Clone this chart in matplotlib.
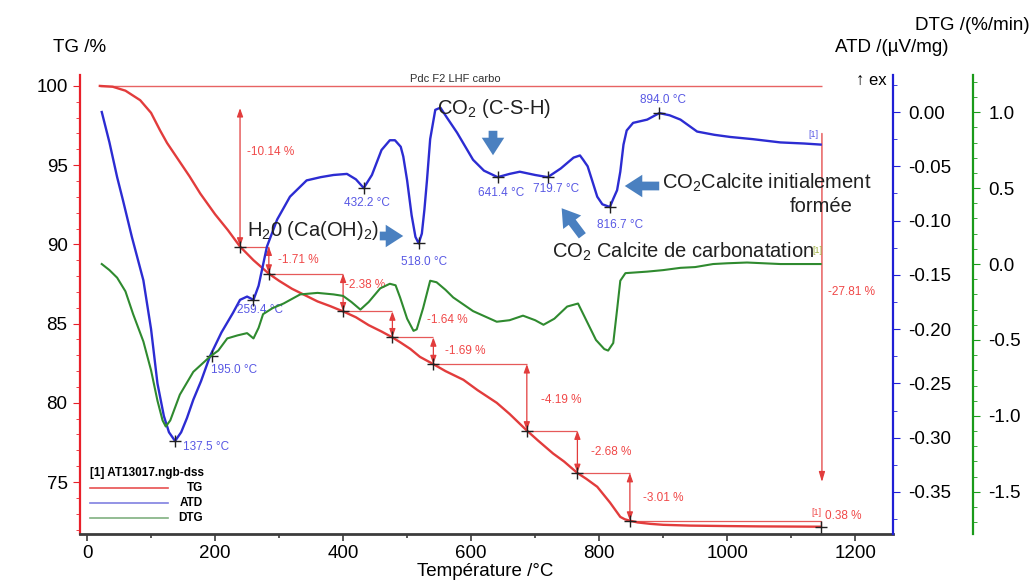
"""TG / ATD / DTG thermogram, Pdc F2 LHF carbo"""
import matplotlib
matplotlib.use('Agg')
from matplotlib import pyplot as plt
from matplotlib.lines import Line2D
from matplotlib.ticker import MultipleLocator

plt.rcParams['font.family'] = ['Liberation Sans', 'DejaVu Sans']
plt.rcParams['mathtext.fontset'] = 'custom'
plt.rcParams['mathtext.rm'] = 'Liberation Sans'
plt.rcParams['mathtext.it'] = 'Liberation Sans:italic'

CLR_TG = '#e23c3c'
CLR_ATD = '#2c2cd2'
CLR_DTG = '#2f8a2f'
CLR_TG_TXT = '#f04848'
CLR_ATD_TXT = '#5858e4'
CLR_ARROW = '#4a80c0'

# ---- data ----
tg_T = [20, 40, 60, 83, 100, 114, 125, 140, 160, 177, 200, 220, 239, 260, 284, 300, 320,
        340, 360, 380, 400, 420, 440, 460, 477, 490, 505, 520, 541, 560, 588, 610, 640,
        660, 687, 705, 728, 745, 766, 780, 797, 817, 833, 840, 848, 860, 880, 900, 942,
        1000, 1050, 1100, 1146]
tg_val = [100, 99.95, 99.7, 99.1, 98.3, 97.2, 96.4, 95.5, 94.3, 93.2, 91.9, 90.9, 89.86,
          89.0, 88.15, 87.7, 87.2, 86.8, 86.4, 86.1, 85.77, 85.4, 84.9, 84.5, 84.13, 83.8,
          83.4, 82.9, 82.44, 82.0, 81.45, 80.8, 80.0, 79.3, 78.25, 77.6, 76.8, 76.3, 75.57,
          75.2, 74.7, 73.7, 72.8, 72.65, 72.56, 72.45, 72.36, 72.3, 72.25, 72.22, 72.2,
          72.19, 72.18]

atd_T = [23, 35, 47, 56, 70, 88, 100, 110, 120, 128, 137.5, 147, 156, 166, 178, 192, 210,
         228, 239, 250, 260, 268, 281, 297, 317, 343, 365, 385, 406, 420, 432.2, 445, 460,
         473, 481, 490, 494, 500, 507, 513, 518, 523, 527, 531, 536, 544, 552, 562, 578,
         603, 620, 641.4, 660, 676, 700, 719.7, 740, 760, 770, 775, 782, 789, 797, 805,
         816.7, 822, 828, 833, 838, 843, 853, 875, 894, 910, 927, 953, 980, 1005, 1040,
         1083, 1120, 1146]
atd_val = [0.000, -0.028, -0.060, -0.081, -0.115, -0.155, -0.200, -0.250, -0.280, -0.295,
           -0.303, -0.295, -0.282, -0.265, -0.248, -0.225, -0.203, -0.185, -0.173, -0.170,
           -0.173, -0.160, -0.124, -0.099, -0.078, -0.063, -0.060, -0.058, -0.057, -0.062,
           -0.070, -0.058, -0.035, -0.026, -0.026, -0.032, -0.041, -0.063, -0.095, -0.115,
           -0.121, -0.112, -0.090, -0.063, -0.025, 0.002, 0.004, -0.005, -0.019, -0.044,
           -0.054, -0.060, -0.057, -0.055, -0.058, -0.060, -0.052, -0.042, -0.040, -0.044,
           -0.050, -0.063, -0.078, -0.085, -0.0875, -0.080, -0.072, -0.055, -0.030, -0.017,
           -0.010, -0.007, -0.001, -0.003, -0.007, -0.018, -0.021, -0.023, -0.025, -0.028,
           -0.029, -0.030]

dtg_T = [23, 35, 47, 60, 72, 88, 100, 110, 118, 123, 130, 145, 166, 192, 205, 219, 235,
         250, 260, 268, 275, 290, 307, 333, 360, 385, 400, 413, 427, 440, 458, 473, 482,
         489, 500, 510, 515, 525, 536, 546, 560, 572, 603, 640, 660, 681, 700, 713, 730,
         750, 767, 781, 795, 808, 814, 822, 828, 833, 841, 875, 900, 927, 950, 978, 1000,
         1031, 1083, 1146]
dtg_val = [0.00, -0.04, -0.09, -0.18, -0.33, -0.51, -0.70, -0.90, -1.03, -1.07, -1.03,
           -0.86, -0.71, -0.61, -0.57, -0.49, -0.47, -0.455, -0.49, -0.42, -0.33, -0.29,
           -0.26, -0.20, -0.19, -0.20, -0.21, -0.25, -0.30, -0.25, -0.16, -0.13, -0.14,
           -0.22, -0.36, -0.44, -0.43, -0.29, -0.11, -0.12, -0.17, -0.22, -0.31, -0.38,
           -0.37, -0.34, -0.37, -0.40, -0.36, -0.28, -0.26, -0.38, -0.50, -0.56, -0.57,
           -0.52, -0.30, -0.11, -0.06, -0.05, -0.04, -0.025, -0.02, 0.00, 0.005, 0.01,
           0.00, 0.00]

# mass-loss steps (TG)
step_T = [239, 284, 400, 477, 541, 687, 766, 848, 1146]
step_TG = [89.86, 88.15, 85.77, 84.13, 82.44, 78.25, 75.57, 72.56, 72.18]
step_txt = ['-10.14 %', '-1.71 %', '-2.38 %', '-1.64 %', '-1.69 %', '-4.19 %',
            '-2.68 %', '-3.01 %', '0.38 %']
total_txt = '-27.81 %'

# ATD peaks
peak_T = [137.5, 195.0, 259.4, 432.2, 518.0, 641.4, 719.7, 816.7, 894.0]
peak_atd = [-0.303, -0.225, -0.173, -0.070, -0.121, -0.060, -0.060, -0.0875, -0.001]

# ---- layout (pixels) ----
W, H = 1033, 580
step_lbl_off = [(7, 22), (9, 0), (2, 8), (35, 4), (12, 0), (14, -3), (14, 0), (13, -1), (4, 8)]
peak_lbl_off = [(31, -6), (22, -14), (7, -10), (3, -15), (5, -19), (3, -16), (8, -12),
                (10, -18), (4, 13)]


def fp(x, y):
    """pixel (from top-left) -> figure fraction"""
    return x / W, 1 - y / H


fig = plt.figure(figsize=(W / 100, H / 100), dpi=100)
left, top, right, bottom = 80, 75, 893, 534
ax = fig.add_axes([left / W, 1 - bottom / H, (right - left) / W, (bottom - top) / H])
ax2 = ax.twinx()
ax3 = ax.twinx()

ax.set_xlim(-11, 1259)
ax.set_ylim(71.72, 100.69)
ax2.set_ylim(-0.3887, 0.0341)
ax3.set_ylim(-1.778, 1.245)

# spines
for a in (ax, ax2, ax3):
    a.spines['top'].set_visible(False)
ax.spines['right'].set_visible(False)
ax.spines['left'].set_color('#e8202a')
ax.spines['left'].set_linewidth(1.6)
ax.spines['bottom'].set_color('#3c3c3c')
ax.spines['bottom'].set_linewidth(2)
for a in (ax2, ax3):
    a.spines['left'].set_visible(False)
    a.spines['bottom'].set_visible(False)
ax2.spines['right'].set_color('#1f1fd6')
ax2.spines['right'].set_linewidth(1.6)
ax3.spines['right'].set_position(('outward', 80 * 0.72))  # 80 px
ax3.spines['right'].set_color('#1a9a1a')
ax3.spines['right'].set_linewidth(1.6)

# ticks
ax.xaxis.set_major_locator(MultipleLocator(200))
ax.xaxis.set_minor_locator(MultipleLocator(100))
ax.yaxis.set_major_locator(MultipleLocator(5))
ax.yaxis.set_minor_locator(MultipleLocator(1))
ax2.yaxis.set_major_locator(MultipleLocator(0.05))
ax2.yaxis.set_minor_locator(MultipleLocator(0.025))
ax2.yaxis.set_major_formatter(lambda v, p: '%.2f' % (0 if abs(v) < 1e-9 else v))
ax3.yaxis.set_major_locator(MultipleLocator(0.5))
ax3.yaxis.set_minor_locator(MultipleLocator(0.1))
ax3.yaxis.set_major_formatter(lambda v, p: '%.1f' % (0 if abs(v) < 1e-9 else v))
ax.set_xticks(range(0, 1201, 200))
ax.tick_params(axis='x', which='major', length=5, width=1.2, color='#3c3c3c', labelsize=13.5, pad=3)
ax.tick_params(axis='x', which='minor', length=3, width=1.2, color='#3c3c3c')
ax.tick_params(axis='y', which='major', length=5, color='#e8202a', labelsize=13.5, pad=4)
ax.tick_params(axis='y', which='minor', length=3, color='#e8202a')
ax2.tick_params(axis='y', which='major', length=5, color='#1f1fd6', labelsize=13.5, pad=6)
ax2.tick_params(axis='y', which='minor', length=3, color='#1f1fd6')
ax3.tick_params(axis='y', which='major', length=5, color='#1a9a1a', labelsize=13.5, pad=6)
ax3.tick_params(axis='y', which='minor', length=3, color='#1a9a1a')

# curves
ax.plot(tg_T, tg_val, color=CLR_TG, lw=1.7, zorder=3)
ax2.plot(atd_T, atd_val, color=CLR_ATD, lw=1.7, zorder=3)
ax3.plot(dtg_T, dtg_val, color=CLR_DTG, lw=1.5, zorder=3)

# TG step evaluation
ax.hlines(100, tg_T[0], 1148, color=CLR_TG, lw=1.0, alpha=0.8)
arrow_kw = dict(arrowstyle='<|-|>,head_length=0.5,head_width=0.18', color=CLR_TG, lw=0.9,
                shrinkA=0, shrinkB=0)
prev_T, prev_TG = tg_T[0], tg_val[0]
for i, (t, v) in enumerate(zip(step_T, step_TG)):
    if i == 0:
        ax.annotate('', xy=(t, v), xytext=(t, prev_TG), arrowprops=dict(arrow_kw, shrinkA=16))
    else:
        ax.hlines(prev_TG, prev_T, t, color=CLR_TG, lw=0.9, alpha=0.85)
        if i < len(step_T) - 1:
            ax.annotate('', xy=(t, v), xytext=(t, prev_TG), arrowprops=arrow_kw)
        else:
            ax.vlines(t, v, prev_TG, color=CLR_TG, lw=0.9)
    ax.annotate(step_txt[i], xy=(t, (v + (prev_TG if i else 99.0)) / 2),
                xytext=step_lbl_off[i], textcoords='offset pixels',
                color=CLR_TG_TXT, fontsize=8.5, ha='left', va='center')
    prev_T, prev_TG = t, v
ax.plot(step_T, step_TG, '+', color='#202020', ms=9, mew=1.0, zorder=5)

# total mass change
ax.annotate('', xy=(1148, 75.0), xytext=(1148, 97.0),
            arrowprops=dict(arrowstyle='-|>,head_length=0.6,head_width=0.18', color=CLR_TG,
                            lw=0.9, shrinkA=0, shrinkB=0))
ax.annotate(total_txt, xy=(1148, 87.0), xytext=(6, 0), textcoords='offset pixels',
            color=CLR_TG_TXT, fontsize=8.5, ha='left', va='center')

# ATD peaks
ax2.plot(peak_T, peak_atd, '+', color='#202020', ms=9, mew=1.0, zorder=5)
for t, v, off in zip(peak_T, peak_atd, peak_lbl_off):
    ax2.annotate('%.1f \u00b0C' % t, xy=(t, v), xytext=off, textcoords='offset pixels',
                 color=CLR_ATD_TXT, fontsize=8.5, ha='center', va='center')

# curve end tags
ax2.annotate('[1]', xy=(atd_T[-1], atd_val[-1]), xytext=(-7, 10), textcoords='offset pixels',
             color=CLR_ATD_TXT, fontsize=6.5, ha='center', va='center')
ax3.annotate('[1]', xy=(dtg_T[-1], dtg_val[-1]), xytext=(-3, 14), textcoords='offset pixels',
             color='#a0b040', fontsize=6.5, ha='center', va='center')
ax.annotate('[1]', xy=(tg_T[-1], tg_val[-1]), xytext=(-4, 14), textcoords='offset pixels',
            color=CLR_TG_TXT, fontsize=6.5, ha='center', va='center')

# axis titles
fig.text(*fp(53, 48), 'TG /%', fontsize=13.5, ha='left', va='center')
fig.text(*fp(835, 48), 'ATD /(\u00b5V/mg)', fontsize=13.5, ha='left', va='center')
fig.text(*fp(1030, 26), 'DTG /(%/min)', fontsize=13.5, ha='right', va='center')
fig.text(*fp(485, 571), 'Température /°C', fontsize=13.5, ha='center', va='center')
fig.text(*fp(856, 80), '\u2191 ex', fontsize=12, ha='left', va='center')
fig.text(*fp(455, 79), 'Pdc F2 LHF carbo', fontsize=8, ha='center', va='center', color='#303030')

# interpretation notes
note_kw = dict(fontsize=14.5, color='#202020', va='center')
fig.text(*fp(437, 108), 'CO$_2$ (C-S-H)', ha='left', **note_kw)
fig.text(*fp(662, 183), 'CO$_2$Calcite initialement', ha='left', **note_kw)
fig.text(*fp(853, 207), 'formée', ha='right', **note_kw)
fig.text(*fp(247, 231), 'H$_2$0 (Ca(OH)$_2$)', ha='left', **note_kw)
fig.text(*fp(552, 252), 'CO$_2$ Calcite de carbonatation', ha='left', **note_kw)

fat = dict(arrowstyle='simple,head_length=0.7,head_width=0.9,tail_width=0.35',
           color=CLR_ARROW, lw=0)
for (x0, y0), (x1, y1) in [((493, 128), (493, 158)), ((377, 236), (406, 236)),
                           ((662, 186), (622, 186)), ((584, 238), (560, 206))]:
    fig.patches.append(matplotlib.patches.FancyArrowPatch(
        fp(x0, y0), fp(x1, y1), transform=fig.transFigure, mutation_scale=18, **fat))

# legend
fig.text(*fp(90, 473), '[1] AT13017.ngb-dss', fontsize=8.5, weight='bold', ha='left', va='center')
for (name, clr), y in zip([('TG', '#e85050'), ('ATD', '#8080e0'), ('DTG', '#80b080')],
                          [488, 503, 518]):
    fig.add_artist(Line2D([90 / W, 168 / W], [1 - y / H, 1 - y / H], color=clr, lw=1.2))
    fig.text(*fp(203, y), name, fontsize=8.5, weight='bold', ha='right', va='center')

fig.savefig('out.png', dpi=100)
